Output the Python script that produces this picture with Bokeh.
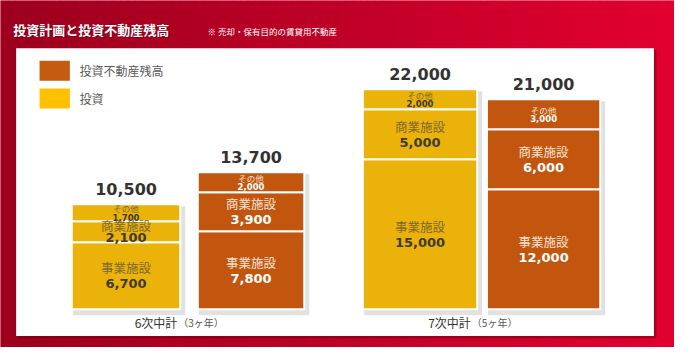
from bokeh.plotting import figure
from bokeh.models import Range1d, ColumnDataSource
from bokeh.core.properties import value
from bokeh.embed import file_html
from bokeh.resources import INLINE

# ---------------- data ----------------
title_text = "投資計画と投資不動産残高"
note_text = "※ 売却・保有目的の賃貸用不動産"
plans = ["6次中計", "7次中計"]
plan_periods = ["（3ヶ年）", "（5ヶ年）"]
series_names = ["投資", "投資不動産残高"]
segment_names = ["事業施設", "商業施設", "その他"]
invest_jigyo = [6700, 15000]
invest_shogyo = [2100, 5000]
invest_other = [1700, 2000]
stock_jigyo = [7800, 12000]
stock_shogyo = [3900, 6000]
stock_other = [2000, 3000]

# ---------------- layout helpers ----------------
W, H = 674, 347
SX = W / 690.0
SY = H / 363.0
PX = 100.0                      # value units per pixel
BASE = H - 323 * SY             # px from canvas bottom to zero line
y0 = -BASE * PX
y1 = (H - BASE) * PX


def X(rx):
    return rx * SX


def Y(ry):
    return y0 + (H - ry * SY) * PX


p = figure(width=W, height=H, x_range=Range1d(0, W), y_range=Range1d(y0, y1),
           output_backend="svg", toolbar_location=None, min_border=0)
p.title.visible = False
p.axis.visible = False
p.grid.visible = False
p.outline_line_color = None
p.background_fill_color = "#c4002a"
p.border_fill_color = "#c4002a"

# red gradient background
c_left = (0x9c, 0x00, 0x1d)
c_right = (0xe2, 0x00, 0x30)
N = 90
gl, gr, gc = [], [], []
for i in range(N):
    t = i / (N - 1)
    col = tuple(int(round(c_left[k] + (c_right[k] - c_left[k]) * t)) for k in range(3))
    gl.append(W * i / N)
    gr.append(W * (i + 1) / N + 0.6)
    gc.append("#%02x%02x%02x" % col)
p.quad(left=gl, right=gr, top=[y1] * N, bottom=[y0] * N, fill_color=gc, line_color=None)

# white panel with shadow
p.quad(left=[X(18)], right=[X(671.5)], top=[Y(52)], bottom=[Y(353.5)],
       fill_color="#5a000c", fill_alpha=0.45, line_color=None)
p.quad(left=[X(16)], right=[X(669)], top=[Y(50)], bottom=[Y(351)],
       fill_color="#ffffff", line_color=None)

# title / note
p.text(x=[X(13)], y=[Y(30)], text=[title_text], text_font=value("Noto Sans CJK JP"),
       text_font_size="13px", text_font_style="bold", text_color="#4a0010",
       text_alpha=0.5, text_baseline="middle", x_offset=1, y_offset=1)
p.text(x=[X(13)], y=[Y(30)], text=[title_text], text_font=value("Noto Sans CJK JP"),
       text_font_size="13px", text_font_style="bold", text_color="#ffffff",
       text_baseline="middle")
p.text(x=[X(212)], y=[Y(32)], text=[note_text], text_font=value("Noto Sans CJK JP"),
       text_font_size="8.5px", text_color="#ffffff", text_baseline="middle")

# legend (drawn manually)
legend_fill = {"投資不動産残高": "#c55a11", "投資": "#ffc000"}
legend_order = [series_names[1], series_names[0]]
for k, name in enumerate(legend_order):
    top_px = 63 + 29 * k
    p.quad(left=[X(40)], right=[X(71)], top=[Y(top_px)], bottom=[Y(top_px + 21)],
           fill_color=legend_fill[name], line_color=None)
    p.text(x=[X(81)], y=[Y(top_px + 10.5)], text=[name], text_font=value("Noto Sans CJK JP"),
           text_font_size="12px", text_color="#595959", text_baseline="middle")

# bars
bar_edges = [(73, 184), (202, 311), (371, 488), (498, 614)]
bar_fill = {"投資": "#ebb20a", "投資不動産残高": "#c2560f"}
name_col = {"投資": "#7d6a2c", "投資不動産残高": "#f6e2d4"}
num_col = {"投資": "#3e3a2c", "投資不動産残高": "#ffffff"}

bars = []
for i in range(len(plans)):
    bars.append(("投資", [invest_jigyo[i], invest_shogyo[i], invest_other[i]]))
    bars.append(("投資不動産残高", [stock_jigyo[i], stock_shogyo[i], stock_other[i]]))

seg = dict(x=[], w=[], bottom=[], top=[], color=[], ymid=[], name=[], num=[],
           ncol=[], vcol=[], nsize=[], vsize=[], noff=[], voff=[])
tot = dict(x=[], y=[], text=[])
shadow = dict(x=[], w=[], top=[], bottom=[])
for b, (series, vals) in enumerate(bars):
    l, r = bar_edges[b]
    xc = X((l + r) / 2)
    w = (r - l) * SX
    cum = 0
    for s, v in enumerate(vals):
        small = segment_names[s] == "その他"
        hpx = v / PX
        seg["x"].append(xc)
        seg["w"].append(w)
        seg["bottom"].append(cum)
        seg["top"].append(cum + v)
        seg["color"].append(bar_fill[series])
        seg["ymid"].append(cum + v / 2)
        seg["name"].append(segment_names[s])
        seg["num"].append(f"{v:,}")
        seg["ncol"].append(name_col[series])
        seg["vcol"].append(num_col[series])
        if small:
            seg["nsize"].append("8.5px")
            seg["vsize"].append("8.5px")
            seg["noff"].append(-4.5)
            seg["voff"].append(4.5)
        else:
            off = 8 if hpx > 30 else 6
            seg["nsize"].append("12.5px")
            seg["vsize"].append("13px")
            seg["noff"].append(-off)
            seg["voff"].append(off)
        cum += v
    tot["x"].append(xc)
    tot["y"].append(cum)
    tot["text"].append(f"{cum:,}")
    shadow["x"].append(xc + 3)
    shadow["w"].append(w + 4)
    shadow["top"].append(cum - 2 * PX)
    shadow["bottom"].append(-6 * PX)

sh = ColumnDataSource(shadow)
p.vbar(x="x", width="w", top="top", bottom="bottom", source=sh,
       fill_color="#000000", fill_alpha=0.06, line_color=None)
p.vbar(x="x", width="w", top="top", bottom="bottom", source=sh,
       fill_color="#000000", fill_alpha=0.06, line_color=None)

src = ColumnDataSource(seg)
p.vbar(x="x", width="w", bottom="bottom", top="top", source=src,
       fill_color="color", line_color="#ffffff", line_width=2)
p.text(x="x", y="ymid", text="name", source=src, text_font=value("Noto Sans CJK JP"),
       text_font_size="nsize", text_color="ncol", text_align="center",
       text_baseline="middle", y_offset="noff")
p.text(x="x", y="ymid", text="num", source=src, text_font=value("DejaVu Sans"),
       text_font_size="vsize", text_font_style="bold", text_color="vcol",
       text_align="center", text_baseline="middle", y_offset="voff")

p.text(x="x", y="y", text="text", source=ColumnDataSource(tot),
       text_font=value("DejaVu Sans"), text_font_size="16px", text_font_style="bold",
       text_color="#333333", text_align="center", text_baseline="middle", y_offset=-15)

# group labels
for i in range(len(plans)):
    l = bar_edges[2 * i][0]
    r = bar_edges[2 * i + 1][1]
    split = X((l + r) / 2 - 11)
    p.text(x=[split], y=[Y(337)], text=[plans[i]], text_font=value("Noto Sans CJK JP"),
           text_font_size="12px", text_color="#333333",
           text_align="right", text_baseline="middle")
    p.text(x=[split + 1], y=[Y(337)], text=[plan_periods[i]], text_font=value("Noto Sans CJK JP"),
           text_font_size="10px", text_color="#555555",
           text_align="left", text_baseline="middle")

open("out.html", "w").write(file_html(p, INLINE))
